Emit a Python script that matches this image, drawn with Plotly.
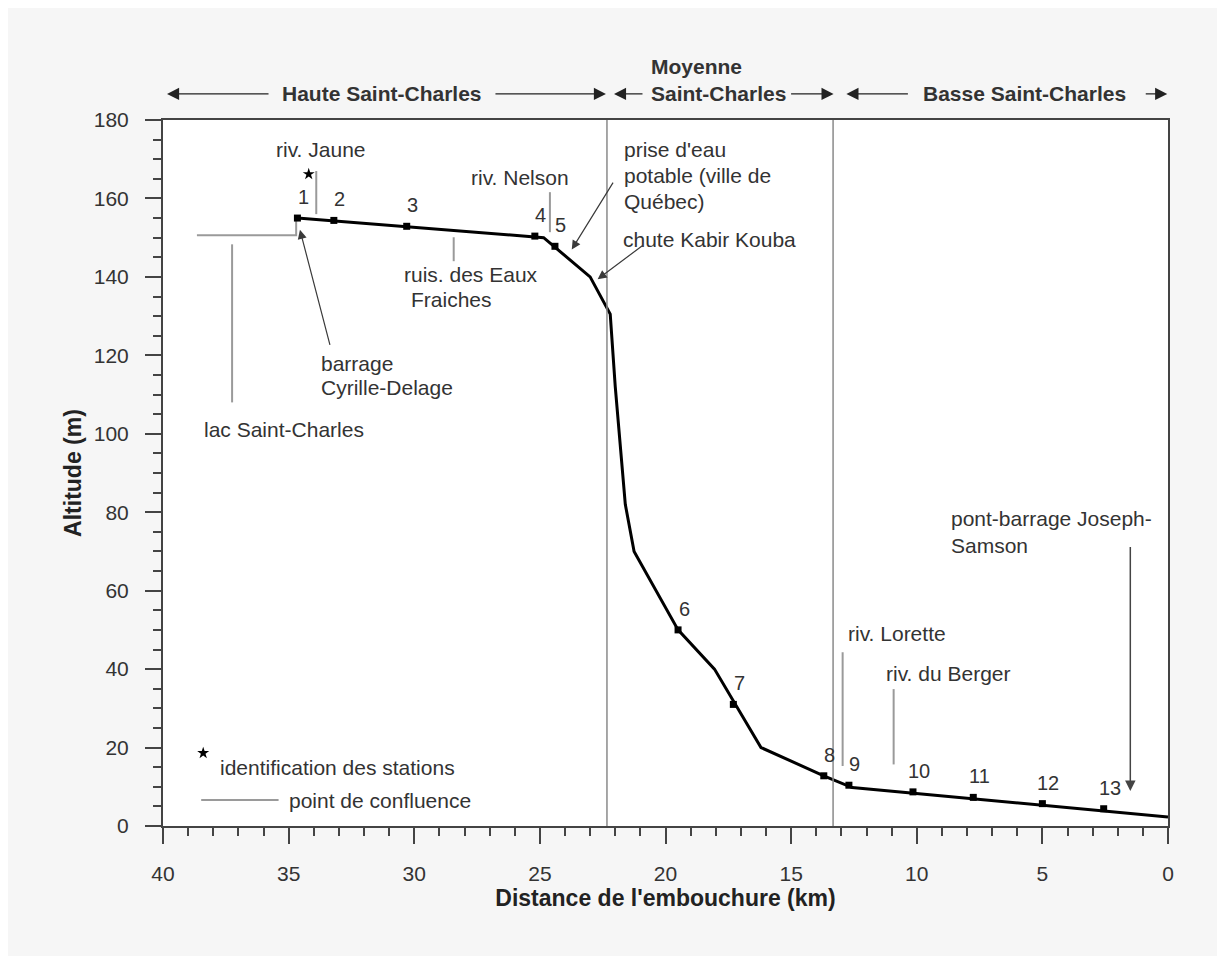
import plotly.graph_objects as go

# ---------------- data ----------------
profile_km = [34.65, 24.85, 23.0, 22.2, 22.0, 21.85, 21.6, 21.25, 19.5, 18.05, 16.2, 13.7, 12.57, 0.0]
profile_alt = [155.0, 150.0, 140.0, 130.5, 112.0, 100.0, 82.0, 70.0, 50.0, 40.0, 20.0, 12.8, 9.8, 2.3]

station_ids = ["1", "2", "3", "4", "5", "6", "7", "8", "9", "10", "11", "12", "13"]
station_km = [34.65, 33.2, 30.3, 25.2, 24.4, 19.5, 17.3, 13.7, 12.7, 10.15, 7.75, 5.0, 2.56]
station_alt = [155.0, 154.4, 152.9, 150.4, 147.8, 50.0, 31.0, 12.8, 10.4, 8.7, 7.3, 5.7, 4.4]

x_ticks = [40, 35, 30, 25, 20, 15, 10, 5, 0]
y_ticks = [0, 20, 40, 60, 80, 100, 120, 140, 160, 180]

section_bounds_km = [22.33, 13.33]

FONT = "Liberation Sans, Arial, sans-serif"
TXT = "#333333"
GRAY = "#9a9a9a"
ANN = 21

fig = go.Figure()

# confluence (gray) lines
confluences = [
    ([33.9, 33.9], [156.0, 167.0]),            # riv. Jaune
    ([24.6, 24.6], [151.4, 161.6]),            # riv. Nelson
    ([28.43, 28.43], [144.0, 150.1]),          # ruis. des Eaux Fraiches
    ([38.65, 34.7, 34.7], [150.6, 150.6, 155.0]),  # lac Saint-Charles
    ([37.25, 37.25], [108.0, 148.3]),          # lac leader
    ([12.95, 12.95], [15.3, 44.3]),            # riv. Lorette
    ([10.92, 10.92], [15.7, 34.9]),            # riv. du Berger
    ([38.48, 35.4], [6.6, 6.6]),               # legend line
]
for xs, ys in confluences:
    fig.add_trace(go.Scatter(x=xs, y=ys, mode="lines",
                             line=dict(color=GRAY, width=2),
                             hoverinfo="skip", showlegend=False))

# profile
fig.add_trace(go.Scatter(x=profile_km, y=profile_alt, mode="lines",
                         line=dict(color="black", width=3),
                         showlegend=False))
# stations
fig.add_trace(go.Scatter(x=station_km, y=station_alt, mode="markers",
                         marker=dict(symbol="square", size=7, color="black"),
                         showlegend=False))
# stars
fig.add_trace(go.Scatter(x=[34.2, 38.4], y=[166.2, 18.6], mode="markers",
                         marker=dict(symbol="star", size=9, color="black"),
                         showlegend=False))

annotations = []

# station labels
for sid, kx, ky in zip(station_ids, station_km, station_alt):
    annotations.append(dict(x=kx, y=ky, xref="x", yref="y", text=sid, showarrow=False,
                            xshift=6, yshift=21, font=dict(size=20, color=TXT, family=FONT)))


def txt(x, y, s, anchor="left", size=ANN, bold=False, xref="x", yref="y"):
    if bold:
        s = "<b>" + s + "</b>"
    annotations.append(dict(x=x, y=y, xref=xref, yref=yref, text=s, showarrow=False,
                            xanchor=anchor, yanchor="middle",
                            font=dict(size=size, color=TXT, family=FONT)))


txt(35.6, 172.6, "riv. Jaune")
txt(25.8, 165.4, "riv. Nelson", anchor="center")
txt(27.75, 140.7, "ruis. des Eaux", anchor="center")
txt(28.5, 134.3, "Fraiches", anchor="center")
txt(33.8, 118.0, "barrage")
txt(33.8, 111.8, "Cyrille-Delage")
txt(38.45, 101.0, "lac Saint-Charles")
txt(21.75, 172.6, "prise d'eau")
txt(21.75, 165.9, "potable (ville de")
txt(21.75, 159.2, "Québec)")
txt(21.77, 149.6, "chute Kabir Kouba")
txt(12.8, 49.0, "riv. Lorette")
txt(11.3, 39.0, "riv. du Berger")
txt(8.7, 78.4, "pont-barrage Joseph-")
txt(8.7, 71.5, "Samson")
txt(37.8, 14.8, "identification des stations")
txt(35.05, 6.6, "point de confluence")


def arrow(x, y, ax, ay, color="#3a3a3a", width=1.2, size=1.5):
    annotations.append(dict(x=x, y=y, ax=ax, ay=ay, xref="x", yref="y",
                            axref="x", ayref="y", text="", showarrow=True,
                            arrowhead=2, arrowsize=size, arrowwidth=width,
                            arrowcolor=color))


arrow(34.55, 152.0, 33.34, 122.3)        # barrage
arrow(23.73, 147.0, 22.05, 164.4)        # prise d'eau
arrow(22.7, 139.4, 20.85, 148.3)         # chute
arrow(1.5, 8.9, 1.5, 71.5, color="#444444", width=1.5, size=1.4)  # pont-barrage

# section headers
HY = 1.037


def harrow(xkm, axpx):
    annotations.append(dict(x=xkm, y=HY, xref="x", yref="paper", ax=axpx, ay=0,
                            axref="pixel", ayref="pixel", text="", showarrow=True,
                            arrowhead=2, arrowsize=2.2, arrowwidth=1.1,
                            arrowcolor="#222222"))


harrow(39.84, 103)
harrow(22.37, -112)
harrow(22.05, 30)
harrow(13.31, -44)
harrow(12.8, 63)
harrow(0.03, -23)

txt(31.3, HY, "Haute Saint-Charles", anchor="center", size=21, bold=True, yref="paper")
txt(20.65, 1.076, "Moyenne", anchor="left", size=21, bold=True, yref="paper")
txt(20.65, HY, "Saint-Charles", anchor="left", size=21, bold=True, yref="paper")
txt(5.7, HY, "Basse Saint-Charles", anchor="center", size=21, bold=True, yref="paper")

shapes = []
for b in section_bounds_km:
    shapes.append(dict(type="line", xref="x", yref="paper", x0=b, x1=b, y0=0, y1=1,
                       line=dict(color="#8a8a8a", width=1.5)))

axis_common = dict(
    showline=True, linecolor="#444444", linewidth=2, mirror=True,
    ticks="outside", ticklen=16, tickwidth=1.5, tickcolor="#444444",
    showgrid=False, zeroline=False,
    tickfont=dict(size=21, color=TXT, family=FONT),
)

fig.update_layout(
    width=1209, height=948,
    margin=dict(l=155, r=49, t=112, b=130),
    paper_bgcolor="#f6f6f6", plot_bgcolor="white",
    annotations=annotations, shapes=shapes,
    xaxis=dict(range=[40, 0], tickvals=x_ticks, ticklabelstandoff=12,
               minor=dict(ticks="outside", ticklen=8, dtick=1, tickcolor="#444444", tickwidth=1.5),
               title=dict(text="<b>Distance de l'embouchure (km)</b>", standoff=6,
                          font=dict(size=23, color="#222222", family=FONT)),
               **axis_common),
    yaxis=dict(range=[0, 180], tickvals=y_ticks, ticklabelstandoff=12,
               minor=dict(ticks="outside", ticklen=8, dtick=5, tickcolor="#444444", tickwidth=1.5),
               title=dict(text="<b>Altitude (m)</b>", standoff=6,
                          font=dict(size=23, color="#222222", family=FONT)),
               **axis_common),
    showlegend=False,
)

fig.write_html("out.html")
